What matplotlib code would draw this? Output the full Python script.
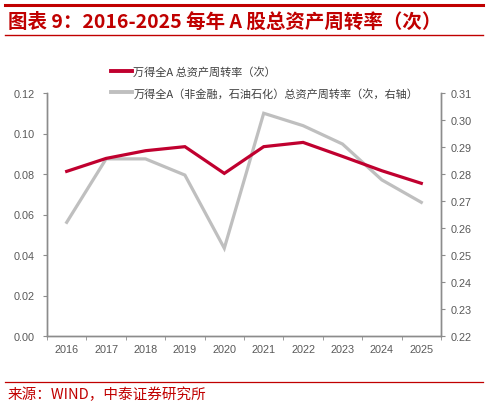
import matplotlib
matplotlib.use("Agg")
import matplotlib.pyplot as plt
from matplotlib.lines import Line2D

plt.rcParams['font.family'] = ['Liberation Sans', 'Noto Sans CJK SC', 'DejaVu Sans']

years = ['2016', '2017', '2018', '2019', '2020', '2021', '2022', '2023', '2024', '2025']
all_a = [0.0813, 0.0877, 0.0915, 0.0935, 0.0803, 0.0935, 0.0956, 0.0887, 0.0816, 0.0754]
non_fin = [0.2621, 0.2856, 0.2856, 0.2796, 0.2525, 0.3025, 0.2979, 0.2911, 0.2778, 0.2695]
left_ticks = [0.00, 0.02, 0.04, 0.06, 0.08, 0.10, 0.12]
right_ticks = [0.22, 0.23, 0.24, 0.25, 0.26, 0.27, 0.28, 0.29, 0.30, 0.31]
label_all = '万得全A 总资产周转率（次）'
label_nf = '万得全A（非金融，石油石化）总资产周转率（次，右轴）'
title = '图表 9：2016-2025 每年 A 股总资产周转率（次）'
source = '来源：WIND，中泰证券研究所'

RED = '#C0002F'
GRAY = '#BFBFBF'
AX = '#8C8C8C'
TXT = '#595959'
TRED = '#C00000'

fig = plt.figure(figsize=(4.88, 4.06), dpi=100)
W, H = 488, 406
ax = fig.add_axes([47 / W, 1 - 337 / H, (441 - 47) / W, (337 - 94) / H])
ax2 = ax.twinx()

x = list(range(len(years)))
ax2.plot(x, non_fin, color=GRAY, lw=2.3, solid_joinstyle='miter', zorder=2)
ax.plot(x, all_a, color=RED, lw=2.3, solid_joinstyle='miter', zorder=3)
ax.set_zorder(ax2.get_zorder() + 1)
ax.patch.set_visible(False)

ax.set_xlim(-0.5, len(years) - 0.5)
ax.set_ylim(0, 0.12)
ax2.set_ylim(0.22, 0.31)
ax.set_yticks(left_ticks)
ax.set_yticklabels([f'{v:.2f}' for v in left_ticks])
ax2.set_yticks(right_ticks)
ax2.set_yticklabels([f'{v:.2f}' for v in right_ticks])

ax.set_xticks(x)
ax.set_xticklabels(years)
ax.set_xticks([i - 0.5 for i in range(len(years) + 1)], minor=True)
ax.tick_params(axis='x', which='major', length=0, pad=6, labelsize=7.8, labelcolor=TXT)
ax.tick_params(axis='x', which='minor', length=3, color=AX, direction='out')
ax.tick_params(axis='y', length=3, color=AX, labelsize=7.8, labelcolor=TXT, pad=6)
ax2.tick_params(axis='y', length=3, color=AX, labelsize=7.8, labelcolor=TXT, pad=4)

for a in (ax, ax2):
    a.spines['top'].set_visible(False)
    for s in ('left', 'right', 'bottom'):
        a.spines[s].set_color(AX)
        a.spines[s].set_linewidth(1.0)

handles = [Line2D([], [], color=RED, lw=2.8), Line2D([], [], color=GRAY, lw=2.8)]
leg = fig.legend(handles, [label_all, label_nf], loc='upper left',
                 bbox_to_anchor=(101 / W, 1 - 57 / H), frameon=False,
                 handlelength=1.9, handletextpad=0.1, labelspacing=0.95,
                 prop={'family': ['Noto Sans CJK SC', 'DejaVu Sans'], 'size': 8})
for t in leg.get_texts():
    t.set_color('#404040')

# title and rules
fig.add_artist(Line2D([5 / W, 483 / W], [1 - 6 / H, 1 - 6 / H], color=TRED, lw=2.2))
fig.add_artist(Line2D([5 / W, 483 / W], [1 - 36 / H, 1 - 36 / H], color=TRED, lw=1.0))
fig.text(8 / W, 1 - 22 / H, title, color=TRED, fontsize=14, fontweight='bold',
         family=['Noto Sans CJK SC', 'DejaVu Sans'], va='center', ha='left')

fig.add_artist(Line2D([5 / W, 483 / W], [1 - 383 / H, 1 - 383 / H], color=TRED, lw=0.9))
fig.text(8 / W, 1 - 395 / H, source, color=TRED, fontsize=10.5,
         family=['Noto Sans CJK SC', 'DejaVu Sans'], va='center', ha='left')

fig.savefig('out.png', dpi=100)
